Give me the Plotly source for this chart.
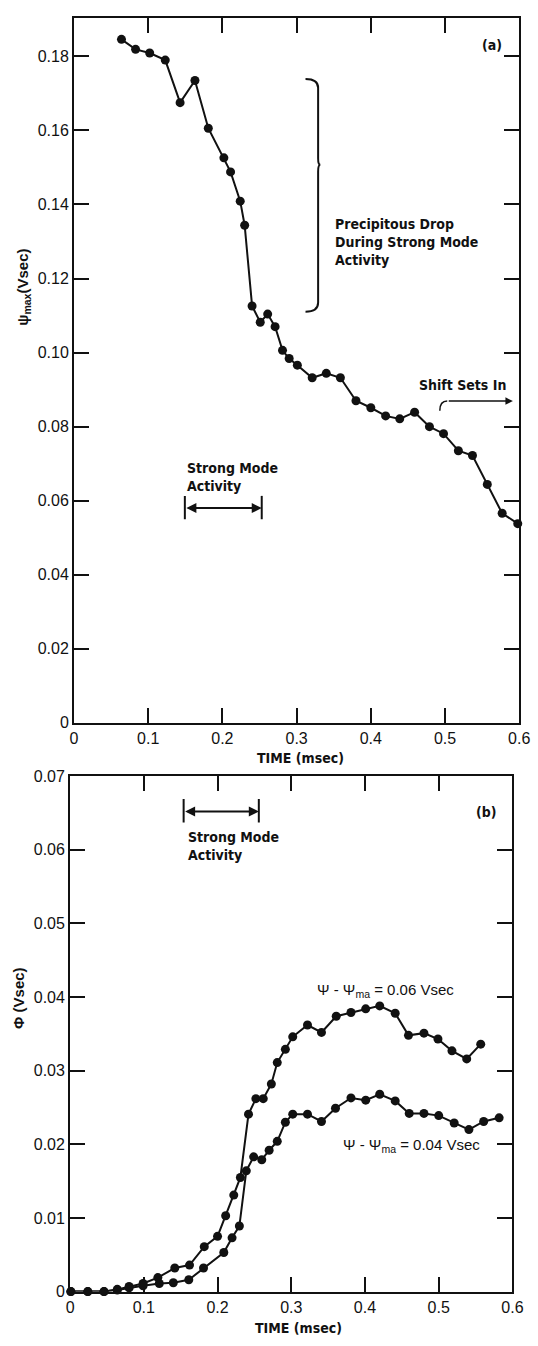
import plotly.graph_objects as go

# ---- Panel (a): psi_max vs time ----
time_a = [0.064, 0.083, 0.102, 0.123, 0.143, 0.163, 0.181, 0.202, 0.211, 0.224, 0.230,
          0.240, 0.251, 0.261, 0.271, 0.281, 0.290, 0.301, 0.321, 0.340, 0.359, 0.380,
          0.400, 0.420, 0.439, 0.459, 0.479, 0.498, 0.518, 0.537, 0.557, 0.577, 0.598]
psi_max = [0.1846, 0.1819, 0.1809, 0.1790, 0.1675, 0.1735, 0.1606, 0.1526, 0.1488, 0.1409,
           0.1344, 0.1126, 0.1082, 0.1104, 0.1070, 0.1006, 0.0984, 0.0966, 0.0932, 0.0944,
           0.0932, 0.0870, 0.0851, 0.0829, 0.0821, 0.0839, 0.0800, 0.0781, 0.0735, 0.0722,
           0.0644, 0.0566, 0.0538]

# ---- Panel (b): Phi vs time ----
time_b06 = [0.001, 0.024, 0.046, 0.064, 0.080, 0.099, 0.119, 0.142, 0.162, 0.182, 0.200,
            0.211, 0.222, 0.231, 0.242, 0.252, 0.262, 0.273, 0.281, 0.292, 0.302, 0.322,
            0.341, 0.361, 0.381, 0.401, 0.420, 0.441, 0.459, 0.480, 0.499, 0.518, 0.538, 0.557]
phi_06 = [0.0, 0.0, 0.0, 0.0003, 0.0007, 0.0011, 0.0019, 0.0032, 0.0036, 0.0061, 0.0075,
          0.0103, 0.0131, 0.0155, 0.0241, 0.0262, 0.0262, 0.0282, 0.0311, 0.0329, 0.0346,
          0.0362, 0.0352, 0.0374, 0.0379, 0.0384, 0.0388, 0.0378, 0.0348, 0.0351, 0.0343,
          0.0327, 0.0316, 0.0336]

time_b04 = [0.001, 0.024, 0.046, 0.064, 0.080, 0.099, 0.121, 0.140, 0.161, 0.181, 0.2085,
            0.2197, 0.2296, 0.239, 0.249, 0.260, 0.270, 0.281, 0.292, 0.302, 0.322, 0.341,
            0.360, 0.381, 0.401, 0.420, 0.441, 0.460, 0.480, 0.500, 0.521, 0.541, 0.561, 0.582]
phi_04 = [0.0, 0.0, 0.0, 0.0002, 0.0005, 0.0008, 0.0011, 0.0012, 0.0016, 0.0032, 0.0053,
          0.0073, 0.0089, 0.0164, 0.0183, 0.0179, 0.0192, 0.0204, 0.0230, 0.0241, 0.0241,
          0.0231, 0.0249, 0.0263, 0.0260, 0.0268, 0.0259, 0.0242, 0.0242, 0.0239, 0.0229,
          0.0220, 0.0231, 0.0236]

x_ticks = [0, 0.1, 0.2, 0.3, 0.4, 0.5, 0.6]
x_ticktext = ["0", "0.1", "0.2", "0.3", "0.4", "0.5", "0.6"]
ya_ticks = [0, 0.02, 0.04, 0.06, 0.08, 0.10, 0.12, 0.14, 0.16, 0.18]
ya_ticktext = ["0", "0.02", "0.04", "0.06", "0.08", "0.10", "0.12", "0.14", "0.16", "0.18"]
yb_ticks = [0, 0.01, 0.02, 0.03, 0.04, 0.05, 0.06, 0.07]
yb_ticktext = ["0", "0.01", "0.02", "0.03", "0.04", "0.05", "0.06", "0.07"]

W, H = 538, 1346
BLACK = "#111111"
NARROW = "Liberation Sans Narrow, DejaVu Sans Condensed, Arial Narrow, Liberation Sans, sans-serif"
REG = "Liberation Sans, Arial, sans-serif"

line_style = dict(color=BLACK, width=2)
marker_style = dict(color=BLACK, size=9)

fig = go.Figure()
fig.add_trace(go.Scatter(x=time_a, y=psi_max, mode="lines+markers", line=line_style,
                         marker=marker_style, xaxis="x", yaxis="y", cliponaxis=False,
                         showlegend=False))
fig.add_trace(go.Scatter(x=time_b06, y=phi_06, mode="lines+markers", line=line_style,
                         marker=marker_style, xaxis="x2", yaxis="y2", cliponaxis=False,
                         showlegend=False))
fig.add_trace(go.Scatter(x=time_b04, y=phi_04, mode="lines+markers", line=line_style,
                         marker=marker_style, xaxis="x2", yaxis="y2", cliponaxis=False,
                         showlegend=False))

axis_common = dict(showline=True, linecolor=BLACK, linewidth=2, mirror="ticks",
                   ticks="inside", ticklen=15, tickwidth=2, tickcolor=BLACK,
                   showgrid=False, zeroline=False,
                   tickfont=dict(family=REG, size=16, color=BLACK))

def px2paper_x(px):
    return px / W

def px2paper_y(py):
    return 1 - py / H

fig.update_layout(
    width=W, height=H, autosize=False,
    margin=dict(l=0, r=0, t=0, b=0),
    paper_bgcolor="white", plot_bgcolor="white",
    xaxis=dict(domain=[px2paper_x(72), px2paper_x(530)], range=[0, 0.6], anchor="y",
               tickmode="array", tickvals=x_ticks, ticktext=x_ticktext, **axis_common),
    yaxis=dict(domain=[px2paper_y(724), px2paper_y(10)], range=[0, 0.1904], anchor="x",
               tickmode="array", tickvals=ya_ticks, ticktext=ya_ticktext, **axis_common),
    xaxis2=dict(domain=[px2paper_x(68), px2paper_x(523)], range=[0, 0.6], anchor="y2",
                tickmode="array", tickvals=x_ticks, ticktext=x_ticktext, **axis_common),
    yaxis2=dict(domain=[px2paper_y(1300), px2paper_y(778)], range=[0, 0.07], anchor="x2",
                tickmode="array", tickvals=yb_ticks, ticktext=yb_ticktext, **axis_common),
)

ann_font_bold = dict(family=NARROW, size=14, color=BLACK, weight="bold")
ann_font = dict(family=REG, size=15, color=BLACK)

annotations = [
    # axis titles
    dict(text="TIME (msec)", xref="paper", yref="paper", x=px2paper_x(305), y=px2paper_y(760),
         showarrow=False, font=dict(family=NARROW, size=14, color=BLACK, weight="bold"),
         xanchor="center", yanchor="middle"),
    dict(text="TIME (msec)", xref="paper", yref="paper", x=px2paper_x(303), y=px2paper_y(1337),
         showarrow=False, font=dict(family=NARROW, size=14, color=BLACK, weight="bold"),
         xanchor="center", yanchor="middle"),
    dict(text="ψ<sub>max</sub>(Vsec)", xref="paper", yref="paper", x=px2paper_x(20),
         y=px2paper_y(283), showarrow=False, textangle=-90,
         font=dict(family=REG, size=15, color=BLACK, weight="bold"),
         xanchor="center", yanchor="middle"),
    dict(text="Φ (Vsec)", xref="paper", yref="paper", x=px2paper_x(15),
         y=px2paper_y(1003), showarrow=False, textangle=-90,
         font=dict(family=REG, size=15, color=BLACK, weight="bold"),
         xanchor="center", yanchor="middle"),
    # panel labels
    dict(text="(a)", xref="x", yref="y", x=0.5633, y=0.1832, showarrow=False,
         font=ann_font_bold, xanchor="center", yanchor="middle"),
    dict(text="(b)", xref="x2", yref="y2", x=0.5646, y=0.0652, showarrow=False,
         font=ann_font_bold, xanchor="center", yanchor="middle"),
    # panel (a) texts
    dict(text="Precipitous Drop<br>During Strong Mode<br>Activity", xref="x", yref="y",
         x=0.3485, y=0.1299, showarrow=False, align="left", xanchor="left",
         yanchor="middle", font=ann_font_bold),
    dict(text="Shift Sets In", xref="x", yref="y", x=0.524, y=0.0912, showarrow=False,
         xanchor="center", yanchor="middle", font=ann_font_bold),
    dict(text="Strong Mode<br>Activity", xref="x", yref="y", x=0.1494, y=0.0663,
         showarrow=False, align="left", xanchor="left", yanchor="middle", font=ann_font_bold),
    # panel (b) texts
    dict(text="Strong Mode<br>Activity", xref="x2", yref="y2", x=0.157, y=0.0605,
         showarrow=False, align="left", xanchor="left", yanchor="middle", font=ann_font_bold),
    dict(text="Ψ - Ψ<sub>ma</sub> = 0.06 Vsec", xref="x2", yref="y2", x=0.4274, y=0.0409,
         showarrow=False, xanchor="center", yanchor="middle", font=ann_font),
    dict(text="Ψ - Ψ<sub>ma</sub> = 0.04 Vsec", xref="x2", yref="y2", x=0.463, y=0.0199,
         showarrow=False, xanchor="center", yanchor="middle", font=ann_font),
    # double-headed arrows
    dict(text="", xref="x", yref="y", axref="x", ayref="y", x=0.253, y=0.058,
         ax=0.1494, ay=0.058, showarrow=True, arrowhead=2, arrowside="end+start",
         arrowwidth=2, arrowsize=1, arrowcolor=BLACK, standoff=0, startstandoff=0),
    dict(text="", xref="x2", yref="y2", axref="x2", ayref="y2", x=0.256, y=0.0652,
         ax=0.154, ay=0.0652, showarrow=True, arrowhead=2, arrowside="end+start",
         arrowwidth=2, arrowsize=1, arrowcolor=BLACK, standoff=0, startstandoff=0),
    # shift arrow horizontal part
    dict(text="", xref="x", yref="y", axref="x", ayref="y", x=0.5915, y=0.0869,
         ax=0.503, ay=0.0869, showarrow=True, arrowhead=2, arrowwidth=1.5, arrowsize=1,
         arrowcolor=BLACK, standoff=0),
]
fig.update_layout(annotations=annotations)

shapes = [
    # end bars of the arrows
    dict(type="line", xref="x", yref="y", x0=0.1494, x1=0.1494, y0=0.055, y1=0.0613,
         line=dict(color=BLACK, width=2)),
    dict(type="line", xref="x", yref="y", x0=0.253, x1=0.253, y0=0.055, y1=0.0613,
         line=dict(color=BLACK, width=2)),
    dict(type="line", xref="x2", yref="y2", x0=0.154, x1=0.154, y0=0.0637, y1=0.0669,
         line=dict(color=BLACK, width=2)),
    dict(type="line", xref="x2", yref="y2", x0=0.256, x1=0.256, y0=0.0637, y1=0.0669,
         line=dict(color=BLACK, width=2)),
    # bracket
    dict(type="path", xref="x", yref="y",
         path="M 0.312,0.1739 Q 0.329,0.1739 0.329,0.1715 L 0.329,0.1525 "
              "Q 0.329,0.1507 0.332,0.1507 Q 0.329,0.1507 0.329,0.1489 "
              "L 0.329,0.1135 Q 0.329,0.111 0.312,0.111",
         line=dict(color=BLACK, width=2)),
    # shift arrow hook
    dict(type="path", xref="x", yref="y",
         path="M 0.493,0.0843 Q 0.493,0.0869 0.503,0.0869",
         line=dict(color=BLACK, width=1.5)),
]
fig.update_layout(shapes=shapes)

fig.write_html("out.html")
